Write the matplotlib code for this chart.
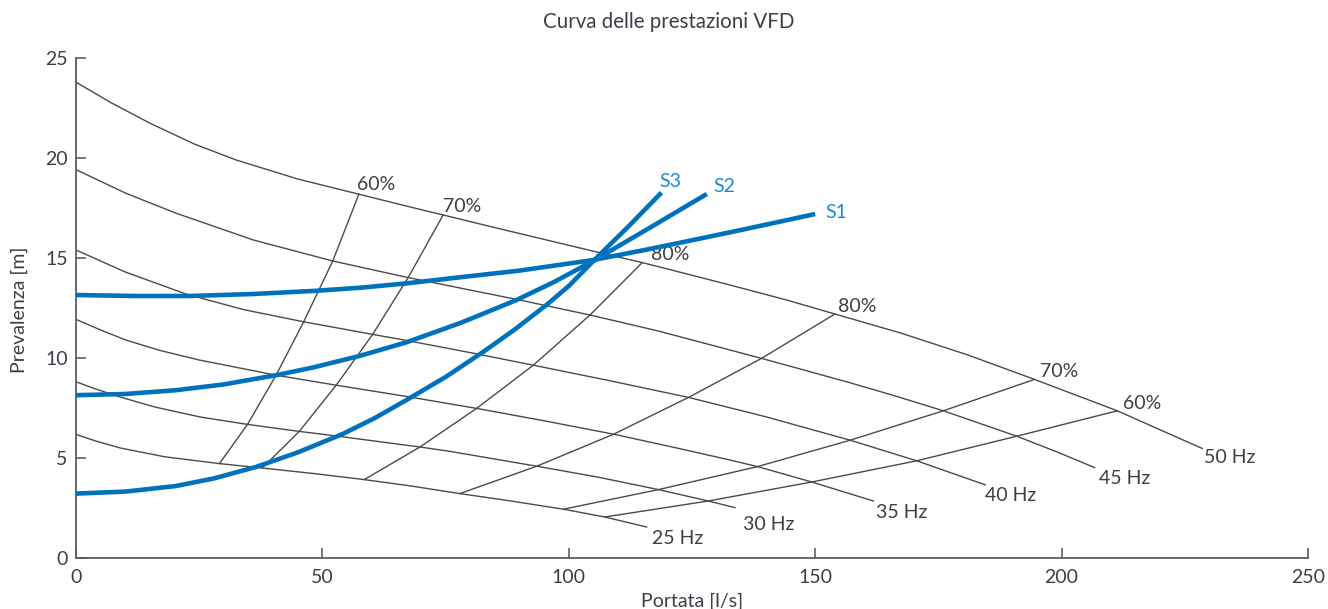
import matplotlib
matplotlib.use("Agg")
import matplotlib.pyplot as plt

# ---------------- data ----------------
title = "Curva delle prestazioni VFD"
x_label = "Portata [l/s]"
y_label = "Prevalenza [m]"
x_ticks = [0, 50, 100, 150, 200, 250]
y_ticks = [0, 5, 10, 15, 20, 25]

# pump curves per frequency
freq_labels = ["50 Hz", "45 Hz", "40 Hz", "35 Hz", "30 Hz", "25 Hz"]
q50 = [0, 7, 15.0, 24, 32.5, 45, 57.4, 67.0, 74.5, 85, 95.5, 105, 114.9, 124, 132.7,
       144.2, 154.0, 167.2, 181, 194.5, 211.3, 228.5]
h50 = [23.79, 22.78, 21.74, 20.7, 19.9, 18.95, 18.19, 17.6, 17.15, 16.52, 15.9, 15.34,
       14.77, 14.2, 13.65, 12.9, 12.2, 11.26, 10.15, 8.93, 7.36, 5.48]
q45 = [0, 10, 20.3, 36, 52.1, 67.4, 75.9, 90, 104.3, 118, 132.7, 139.1, 148, 157.1,
       166, 176.0, 190.9, 198.8, 206.7]
h45 = [19.42, 18.25, 17.24, 15.9, 14.85, 14.02, 13.6, 12.9, 12.15, 11.36, 10.4, 9.98,
       9.38, 8.76, 8.12, 7.36, 6.09, 5.33, 4.52]
q40 = [0, 10, 22.3, 34, 46.2, 60.2, 67.0, 80, 92.8, 108, 124.3, 140, 157.1, 170.6, 184.5]
h40 = [15.4, 14.3, 13.2, 12.42, 11.81, 11.18, 10.88, 10.27, 9.64, 8.88, 8.03, 7.06,
       5.89, 4.86, 3.66]
q35 = [0, 5, 10.1, 17, 25.0, 40.6, 52.8, 67.0, 81.3, 95, 109.1, 121, 132.7, 138.3,
       149.3, 161.8]
h35 = [11.93, 11.4, 10.9, 10.38, 9.9, 9.14, 8.64, 8.08, 7.48, 6.86, 6.19, 5.55, 4.9,
       4.57, 3.8, 2.85]
q30 = [0, 4, 8.8, 16, 25.2, 34.8, 45.3, 52.2, 69.8, 75.9, 93.5, 106, 118.2, 128.3, 133.7]
h30 = [8.81, 8.45, 8.06, 7.55, 7.05, 6.68, 6.33, 6.12, 5.55, 5.33, 4.59, 4.04, 3.42,
       2.85, 2.52]
q25 = [0, 4, 9, 18, 29.1, 37.8, 48, 58.5, 68, 77.9, 88, 98.9, 107.3, 115.8]
h25 = [6.18, 5.85, 5.5, 5.06, 4.72, 4.5, 4.23, 3.92, 3.6, 3.22, 2.86, 2.44, 2.05, 1.55]

# iso-efficiency curves (from 25 Hz curve up to 50 Hz curve)
eff_labels = ["60%", "70%", "80%", "80%", "70%", "60%"]
e60l_q = [29.1, 34.8, 40.6, 46.2, 52.1, 57.4]
e60l_h = [4.72, 6.68, 9.14, 11.81, 14.85, 18.19]
e70l_q = [37.8, 45.3, 52.8, 60.2, 67.4, 74.5]
e70l_h = [4.5, 6.33, 8.64, 11.18, 14.02, 17.15]
e80l_q = [58.5, 69.8, 81.3, 92.8, 104.3, 114.9]
e80l_h = [3.92, 5.55, 7.48, 9.64, 12.15, 14.77]
e80r_q = [77.9, 93.5, 109.1, 124.3, 139.1, 154.0]
e80r_h = [3.22, 4.59, 6.19, 8.03, 9.98, 12.2]
e70r_q = [98.9, 118.2, 138.3, 157.1, 176.0, 194.5]
e70r_h = [2.44, 3.42, 4.57, 5.89, 7.36, 8.93]
e60r_q = [107.3, 128.3, 149.3, 170.6, 190.9, 211.3]
e60r_h = [2.05, 2.85, 3.8, 4.86, 6.09, 7.36]

# system curves
sys_labels = ["S1", "S2", "S3"]
s1_q = [0, 12, 23, 36, 48.7, 58, 67.0, 75.9, 90, 105.0, 116, 126.6, 133.4, 141, 150.0]
s1_h = [13.15, 13.1, 13.1, 13.2, 13.36, 13.52, 13.73, 13.98, 14.37, 14.9, 15.43, 15.97,
        16.32, 16.72, 17.2]
s2_q = [0, 10, 20.3, 30, 40.6, 48, 57.5, 67.0, 78, 89.4, 97, 105.0, 116.0, 128.0]
s2_h = [8.14, 8.2, 8.39, 8.68, 9.14, 9.52, 10.1, 10.78, 11.75, 12.9, 13.8, 14.86, 16.45,
        18.2]
s3_q = [0, 10, 20.3, 28, 36.5, 45, 54.1, 60.5, 67.0, 75, 82.6, 89, 95.5, 100, 105.0,
        112, 118.8]
s3_h = [3.22, 3.32, 3.6, 3.98, 4.55, 5.28, 6.2, 6.98, 7.89, 9.05, 10.3, 11.42, 12.66,
        13.6, 14.86, 16.55, 18.27]

# ---------------- styling ----------------
plt.rcParams["font.family"] = ["Lato", "DejaVu Sans"]
TXT = "#3e3e48"
GRAY = "#4a4a4a"
AX = "#5c5c66"
BLUE = "#0072bc"
BLUE_TXT = "#1a8bd1"
FS = 14
PX = 0.72  # points per pixel at dpi 100

fig = plt.figure(figsize=(13.28, 6.09), dpi=100)
ax = fig.add_axes([76 / 1328, 1 - 558 / 609, 1232 / 1328, 500 / 609])
ax.set_xlim(0, 250)
ax.set_ylim(0, 25)
for s in ("top", "right"):
    ax.spines[s].set_visible(False)
for s in ("left", "bottom"):
    ax.spines[s].set_color(AX)
    ax.spines[s].set_linewidth(1.3)
ax.set_xticks(x_ticks)
ax.set_yticks(y_ticks)
ax.tick_params(direction="in", length=7.2, width=1.2, color=AX,
               labelsize=FS, labelcolor=TXT)
ax.tick_params(axis="x", pad=8)
ax.tick_params(axis="y", pad=6)

pump = [(q50, h50), (q45, h45), (q40, h40), (q35, h35), (q30, h30), (q25, h25)]
hz_off = [(2, -14.4), (4, -16.7), (0, -16), (3, -17.3), (8, -22.3), (5, -17)]
for (q, h), lab, (dx, dy) in zip(pump, freq_labels, hz_off):
    ax.plot(q, h, color=GRAY, lw=1.0, solid_joinstyle="round")
    ax.annotate(lab, (q[-1], h[-1]), xytext=(dx * PX, dy * PX),
                textcoords="offset points", ha="left", va="baseline",
                fontsize=FS, color=TXT)

eff = [(e60l_q, e60l_h), (e70l_q, e70l_h), (e80l_q, e80l_h),
       (e80r_q, e80r_h), (e70r_q, e70r_h), (e60r_q, e60r_h)]
eff_off = [(-2, 4), (0, 3), (9, 3), (3, 2), (6, 2), (6, 2)]
for (q, h), lab, (dx, dy) in zip(eff, eff_labels, eff_off):
    ax.plot(q, h, color=GRAY, lw=1.0, solid_joinstyle="round")
    ax.annotate(lab, (q[-1], h[-1]), xytext=(dx * PX, dy * PX),
                textcoords="offset points", ha="left", va="baseline",
                fontsize=FS, color=TXT)

systems = [(s1_q, s1_h), (s2_q, s2_h), (s3_q, s3_h)]
sys_off = [(10, -4.3), (6.6, 2.3), (-2, 6)]
for (q, h), lab, (dx, dy) in zip(systems, sys_labels, sys_off):
    ax.plot(q, h, color=BLUE, lw=3.3, solid_capstyle="butt",
            solid_joinstyle="round", zorder=3)
    ax.annotate(lab, (q[-1], h[-1]), xytext=(dx * PX, dy * PX),
                textcoords="offset points", ha="left", va="baseline",
                fontsize=FS, color=BLUE_TXT)

fig.text(669 / 1328, 1 - 22 / 609, title, ha="center", va="center",
         fontsize=14.8, color=TXT)
fig.text(692 / 1328, (609 - 607) / 609, x_label, ha="center", va="baseline",
         fontsize=FS, color=TXT)
fig.text(19 / 1328, 1 - 310 / 609, y_label, ha="center", va="center",
         rotation=90, fontsize=FS, color=TXT)

fig.savefig("out.png", dpi=100)
